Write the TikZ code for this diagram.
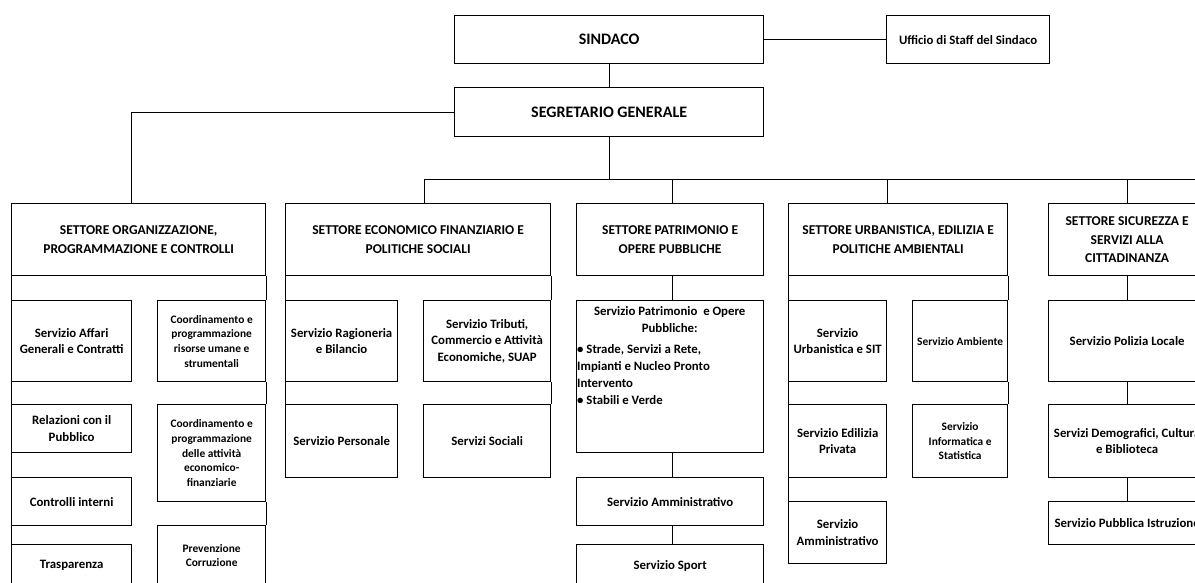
\documentclass[tikz,border=0pt]{standalone}
\usepackage{fontspec}
\setmainfont{Carlito}
\usetikzlibrary{positioning,calc}

\begin{document}
\begin{tikzpicture}[
  x=1pt, y=-1pt,
  every node/.style={font=\bfseries},
  box/.style={draw, line width=1.3pt, anchor=north west, align=center, inner sep=1pt},
  wh/.style 2 args={minimum width=#1pt, minimum height=#2pt},
  top/.style={box, font=\bfseries\fontsize{16}{19}\selectfont},
  head/.style={box, font=\bfseries\fontsize{13.5}{18.5}\selectfont},
  unit/.style={box, font=\bfseries\fontsize{12.8}{16.5}\selectfont},
  small/.style={box, font=\bfseries\fontsize{11.4}{14.7}\selectfont},
  link/.style={line width=1pt}
]
\useasboundingbox (0,0) rectangle (1195,583);
\clip (0,0) rectangle (1195,583);

% Vertice
\node[top, wh={309}{48}] (sindaco) at (454,15) {SINDACO};
\node[unit, wh={163}{48}] (staff) at (886,15) {Ufficio di Staff del Sindaco};
\node[top, wh={309}{49}] (segretario) at (454,87) {SEGRETARIO GENERALE};

% Settori
\node[head, wh={254}{72}] (organizz) at (11,203) {SETTORE ORGANIZZAZIONE,\\PROGRAMMAZIONE E CONTROLLI};
\node[head, wh={265}{72}] (economico) at (285,203) {SETTORE ECONOMICO FINANZIARIO E\\POLITICHE SOCIALI};
\node[head, wh={187}{72}] (patrimonio) at (576,203) {SETTORE PATRIMONIO E\\OPERE PUBBLICHE};
\node[head, wh={219}{72}] (urbanistica) at (788,203) {SETTORE URBANISTICA, EDILIZIA E\\POLITICHE AMBIENTALI};
\node[head, wh={157}{72}] (sicurezza) at (1048,203) {SETTORE SICUREZZA E\\SERVIZI ALLA\\CITTADINANZA};

% Organizzazione, programmazione e controlli
\node[unit, wh={120}{81}] (affari) at (11,300) {Servizio Affari\\Generali e Contratti};
\node[unit, wh={120}{48}] (relazioni) at (11,404) {Relazioni con il\\Pubblico};
\node[unit, wh={120}{48}] (controlli) at (11,477) {Controlli interni};
\node[unit, wh={120}{42}] (trasparenza) at (11,544) {Trasparenza};
\node[small, wh={108}{81}] (coordris) at (157,300) {Coordinamento e\\programmazione\\risorse umane e\\strumentali};
\node[small, wh={108}{97}] (coordatt) at (157,404) {Coordinamento e\\programmazione\\delle attività\\economico-\\finanziarie};
\node[small, wh={108}{60}] (prevenzione) at (157,525) {Prevenzione\\Corruzione};

% Economico finanziario e politiche sociali
\node[unit, wh={112}{81}] (ragioneria) at (285,300) {Servizio Ragioneria\\e Bilancio};
\node[unit, wh={112}{73}] (personale) at (285,404) {Servizio Personale};
\node[unit, wh={127}{81}] (tributi) at (423,300) {Servizio Tributi,\\Commercio e Attività\\Economiche, SUAP};
\node[unit, wh={127}{73}] (sociali) at (423,404) {Servizi Sociali};

% Patrimonio e opere pubbliche
\node[box, wh={187}{152}] (servpatr) at (576,300) {};
\node[anchor=north west, text width=185pt, inner sep=0pt,
  font=\bfseries\fontsize{12.8}{17}\selectfont] (servpatrtxt) at ([shift={(1,6)}]servpatr.north west)
  {\spaceskip=0pt\xspaceskip=0pt\centering Servizio Patrimonio\ \ e Opere\\Pubbliche:\par\vspace{4pt}\raggedright
   • Strade, Servizi a Rete,\\Impianti e Nucleo Pronto\\Intervento\\• Stabili e Verde\par};
\node[unit, wh={187}{48}] (ammpatr) at (576,477) {Servizio Amministrativo};
\node[unit, wh={187}{42}] (sport) at (576,544) {Servizio Sport};

% Urbanistica, edilizia e politiche ambientali
\node[unit, wh={98}{81}] (sit) at (788,300) {Servizio\\Urbanistica e SIT};
\node[unit, wh={98}{73}] (edilizia) at (788,404) {Servizio Edilizia\\Privata};
\node[unit, wh={98}{62}] (ammurb) at (788,501) {Servizio\\Amministrativo};
\node[small, wh={95}{81}] (ambiente) at (912,300) {Servizio Ambiente};
\node[small, wh={95}{73}] (informatica) at (912,404) {Servizio\\Informatica e\\Statistica};

% Sicurezza e servizi alla cittadinanza
\node[unit, wh={157}{81}] (polizia) at (1048,300) {Servizio Polizia Locale};
\node[unit, wh={157}{73}] (demografici) at (1048,404) {Servizi Demografici, Cultura\\e Biblioteca};
\node[unit, wh={157}{43}] (istruzione) at (1048,501) {Servizio Pubblica Istruzione};

% Collegamenti vertice
\coordinate (bus) at (608,180);
\coordinate (busend) at (1200,180);
\draw[link] (sindaco) -- (staff);
\draw[link] (sindaco) -- (segretario);
\draw[link] (segretario.west) -| ([xshift=120]organizz.north west);
\draw[link] (segretario.south) -- (segretario.south |- bus);
\draw[link] ([xshift=6]economico.north) |- (busend);
\draw[link] ([xshift=2]patrimonio.north) |- (bus);
\draw[link] ([xshift=-11]urbanistica.north) |- (bus);
\draw[link] (sicurezza.north) |- (bus);

% Collegamenti servizi
\draw[link] (organizz.south west) -- (affari.north west) (affari.south west) -- (relazioni.north west)
  (relazioni.south west) -- (controlli.north west) (controlli.south west) -- (trasparenza.north west);
\draw[link] (organizz.south east) -- (coordris.north east) (coordris.south east) -- (coordatt.north east)
  (coordatt.south east) -- (prevenzione.north east);
\draw[link] (economico.south west) -- (ragioneria.north west) (ragioneria.south west) -- (personale.north west);
\draw[link] (economico.south east) -- (tributi.north east) (tributi.south east) -- (sociali.north east);
\draw[link] ([xshift=2]patrimonio.south) -- ([xshift=2]servpatr.north) ([xshift=2]servpatr.south) -- ([xshift=2]ammpatr.north)
  ([xshift=2]ammpatr.south) -- ([xshift=2]sport.north);
\draw[link] (urbanistica.south west) -- (sit.north west) (sit.south west) -- (edilizia.north west)
  (edilizia.south west) -- (ammurb.north west);
\draw[link] (urbanistica.south east) -- (ambiente.north east) (ambiente.south east) -- (informatica.north east);
\draw[link] (sicurezza) -- (polizia) (polizia) -- (demografici) (demografici) -- (istruzione);

\end{tikzpicture}
\end{document}
